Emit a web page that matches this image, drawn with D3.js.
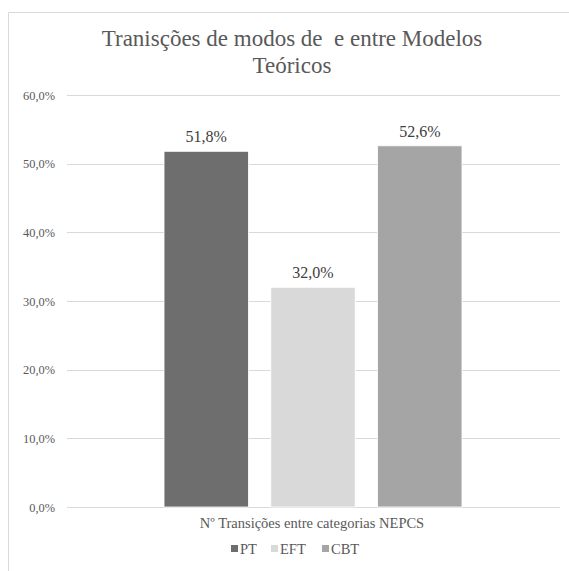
<!DOCTYPE html>
<html><head><meta charset="utf-8">
<script src="https://cdn.jsdelivr.net/npm/d3@7"></script>
<style>body{margin:0;background:#fff}svg{display:block}</style>
</head><body>
<script>
const categories = ["PT", "EFT", "CBT"];
const values = [0.518, 0.320, 0.526];
const colors = ["#6e6e6e", "#d9d9d9", "#a5a5a5"];
const yTicks = [0, 0.1, 0.2, 0.3, 0.4, 0.5, 0.6];
const titleLines = ["Tranisções de modos de  e entre Modelos", "Teóricos"];
const xLabel = "Nº Transições entre categorias NEPCS";

const FF = "Liberation Serif";
const W = 569, H = 571;
const svg = d3.select("body").append("svg").attr("width", W).attr("height", H);
// border
svg.append("path").attr("d", "M8.5,571 V12.5 H569").attr("fill", "none").attr("stroke", "#d9d9d9").attr("stroke-width", 1);

const x0 = 67, x1 = 560, yTop = 95, yBot = 507;
const y = d3.scaleLinear().domain([0, 0.6]).range([yBot, yTop]);
const x = d3.scaleBand().domain(categories).range([148, 478]).paddingInner(0.21).paddingOuter(0.15);

// gridlines
svg.append("g").selectAll("line").data(yTicks).join("line")
  .attr("x1", x0).attr("x2", x1)
  .attr("y1", d => Math.round(y(d)) + 0.5).attr("y2", d => Math.round(y(d)) + 0.5)
  .attr("stroke", "#d9d9d9").attr("stroke-width", 1);

// y axis labels
const fmt = d => (d * 100).toFixed(1).replace(".", ",") + "%";
svg.append("g").selectAll("text").data(yTicks).join("text")
  .attr("x", 55).attr("y", d => y(d) + 4.5)
  .attr("text-anchor", "end").attr("font-size", 12.4).attr("font-family", FF).attr("fill", "#595959")
  .text(fmt);

// bars
svg.append("g").selectAll("rect").data(values).join("rect")
  .attr("x", (d, i) => x(categories[i])).attr("width", x.bandwidth())
  .attr("y", d => y(d)).attr("height", d => y(0) - y(d))
  .attr("fill", (d, i) => colors[i]).attr("stroke", "#ffffff").attr("stroke-width", 0.8);

// value labels
svg.append("g").selectAll("text").data(values).join("text")
  .attr("x", (d, i) => x(categories[i]) + x.bandwidth() / 2).attr("y", d => y(d) - 9)
  .attr("text-anchor", "middle").attr("font-size", 16).attr("font-family", FF).attr("fill", "#404040")
  .text(fmt);

// title
svg.append("g").selectAll("text").data(titleLines).join("text")
  .attr("x", 292).attr("y", (d, i) => 46 + i * 27)
  .attr("text-anchor", "middle").attr("font-size", 23).attr("font-family", FF).attr("fill", "#595959")
  .style("white-space", "pre")
  .text(d => d);

// x label
svg.append("text").attr("x", 312).attr("y", 528).attr("text-anchor", "middle")
  .attr("font-size", 14.5).attr("font-family", FF).attr("fill", "#595959").text(xLabel);

// legend
const legX = [231, 271, 322];
const lg = svg.append("g").selectAll("g").data(categories).join("g")
  .attr("transform", (d, i) => `translate(${legX[i]},549)`);
lg.append("rect").attr("x", 0).attr("y", -4).attr("width", 7).attr("height", 7).attr("fill", (d, i) => colors[i]);
lg.append("text").attr("x", 9).attr("y", 5).attr("font-size", 14.5).attr("font-family", FF).attr("fill", "#595959").text(d => d);
</script>
</body></html>
